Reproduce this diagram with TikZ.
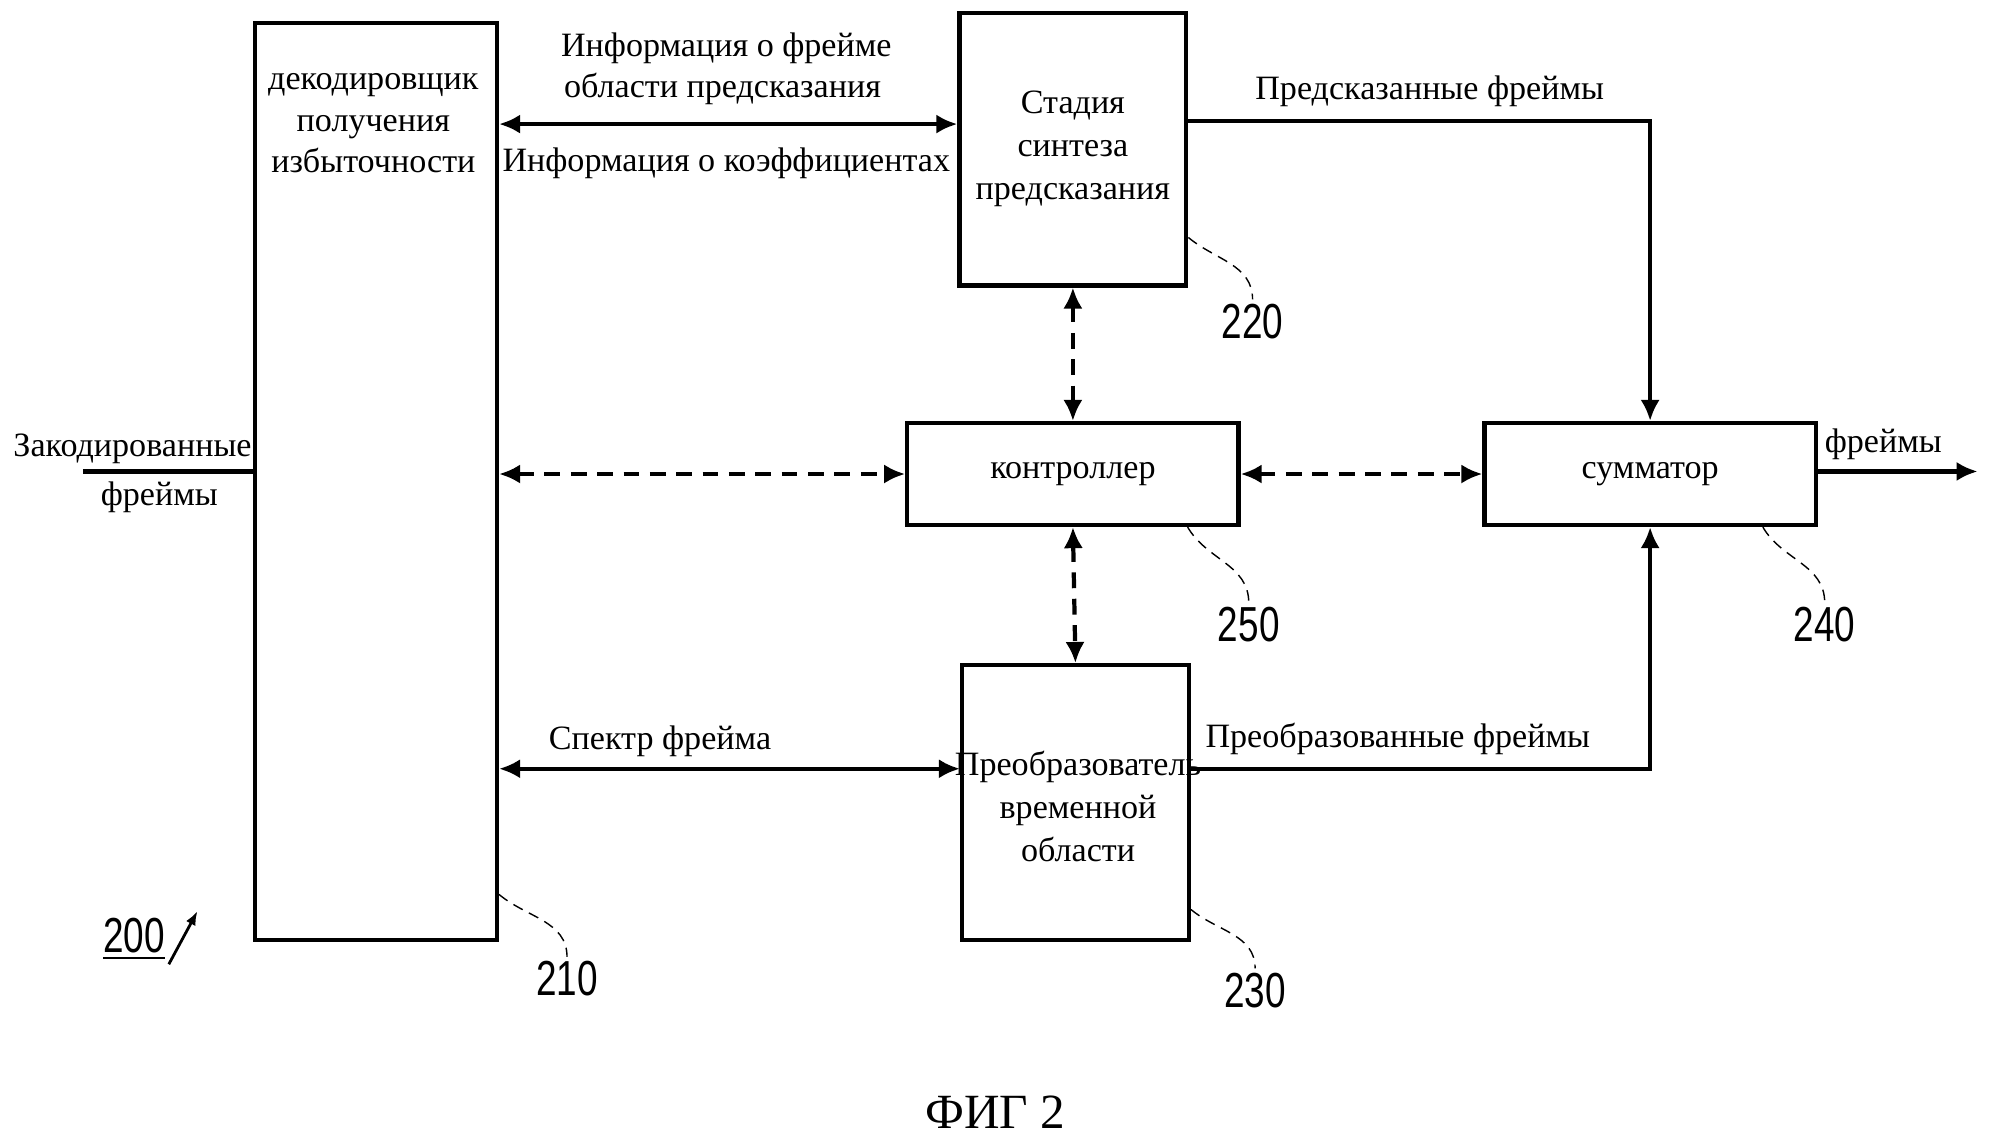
\documentclass[tikz,border=0pt]{standalone}
\usepackage{fontspec}
\setmainfont{Liberation Serif}
\newfontfamily\numfont{Liberation Sans}
\usepackage{tikz}
\usetikzlibrary{calc,arrows.meta}
\newcommand{\refnum}[1]{\scalebox{0.75}[1]{#1}}

\begin{document}
\begin{tikzpicture}[x=0.01274cm, y=-0.01274cm,
    >={Latex[length=6pt,width=5.5pt]},
    blk/.style={draw, very thick, inner sep=2pt, align=center, font=\fontsize{9.7}{12.3}\selectfont},
    lbl/.style={inner sep=1pt, font=\fontsize{9.7}{12}\selectfont},
    num/.style={inner sep=1pt, font=\numfont\fontsize{14}{14}\selectfont},
    ln/.style={very thick},
    arr/.style={very thick, ->},
    biarr/.style={very thick, <->},
    dasharr/.style={very thick, <->, dash pattern=on 4.5pt off 3pt},
    lead/.style={thin, densely dashed}]
      \useasboundingbox (0,0) rectangle (1568,895);
      \node (dec) at (295,378)  [blk, minimum width=2.421cm, minimum height=9.173cm] {};
      \node (dectxt) at (293,97)  [lbl, align=center, font=\fontsize{9.7}{11.8}\selectfont] {декодировщик\\получения\\избыточности};
      \node (p220) at (842,117)  [blk, minimum width=2.268cm, minimum height=2.726cm] {Стадия\\синтеза\\предсказания};
      \node (ctrl) at (842,372)  [blk, minimum width=3.312cm, minimum height=1.019cm] {контроллер};
      \node (sum) at (1295,372)  [blk, minimum width=3.312cm, minimum height=1.019cm] {сумматор};
      \node (tdc) at (844,630)  [blk, minimum width=2.268cm, minimum height=2.752cm] {};
      \node (tdctxt) at (846,633)  [lbl, align=center, font=\fontsize{9.7}{12.3}\selectfont] {Преобразователь\\временной\\области};
      \coordinate (in) at (65,370);
      \coordinate (out) at (1552,370);
      \coordinate (top) at ([yshift=0.25cm]p220.west);
      \coordinate (spc) at ([yshift=0.34cm]tdc.west);
      \draw[ln] (in) to (dec.west |- in);
      \node (inl1) at (104,352)  [lbl] {Закодированные};
      \node (inl2) at (125,390)  [lbl] {фреймы};
      \draw[biarr] (dec.east |- top) to (top);
      \node (t1) at (570,38)  [lbl] {Информация о фрейме};
      \node (t2) at (567,70)  [lbl] {области предсказания};
      \node (t3) at (570,128)  [lbl] {Информация о коэффициентах};
      \draw[arr] ([yshift=0.28cm]p220.east) -| (sum.north);
      \node (t4) at (1122,72)  [lbl] {Предсказанные фреймы};
      \draw[dasharr] (p220.south) to (ctrl.north);
      \draw[dasharr] (ctrl.south) to (tdc.north);
      \draw[dasharr] (dec.east |- ctrl.west) to (ctrl.west);
      \draw[dasharr] (ctrl.east) to (sum.west);
      \draw[arr] (sum.east |- out) to (out);
      \node (t5) at (1478,349)  [lbl] {фреймы};
      \draw[biarr] (dec.east |- spc) to (spc);
      \node (t6) at (518,582)  [lbl] {Спектр фрейма};
      \draw[arr] ([yshift=0.34cm]tdc.east) -| (sum.south);
      \node (t7) at (1097,580)  [lbl] {Преобразованные фреймы};
      \node (n210) at (445,768)  [num] {\refnum{210}};
      \node (n220) at (983,252)  [num] {\refnum{220}};
      \node (n250) at (980,490)  [num] {\refnum{250}};
      \node (n240) at (1432,490)  [num] {\refnum{240}};
      \node (n230) at (985,777)  [num] {\refnum{230}};
      \draw[lead] ([yshift=0.48cm]dec.south east) to[out=-40,in=90] (n210.north);
      \draw[lead] ([yshift=0.5cm]p220.south east) to[out=-40,in=90] (n220.north);
      \draw[lead] ([xshift=-0.53cm]ctrl.south east) to[out=-60,in=90] (n250.north);
      \draw[lead] ([xshift=-0.55cm]sum.south east) to[out=-60,in=90] (n240.north);
      \draw[lead] ([yshift=0.33cm]tdc.south east) to[out=-40,in=90] (n230.north);
      \node (n200) at (105,737)  [num] {\underline{\refnum{200}}};
      \coordinate (a200) at (155,715);
      \draw[thick, -{Latex[length=4pt,width=3pt]}] (n200.south east) to (a200);
      \node (fig) at (781,873)  [font=\fontsize{14}{14}\selectfont] {ФИГ 2};
    \end{tikzpicture}
\end{document}
